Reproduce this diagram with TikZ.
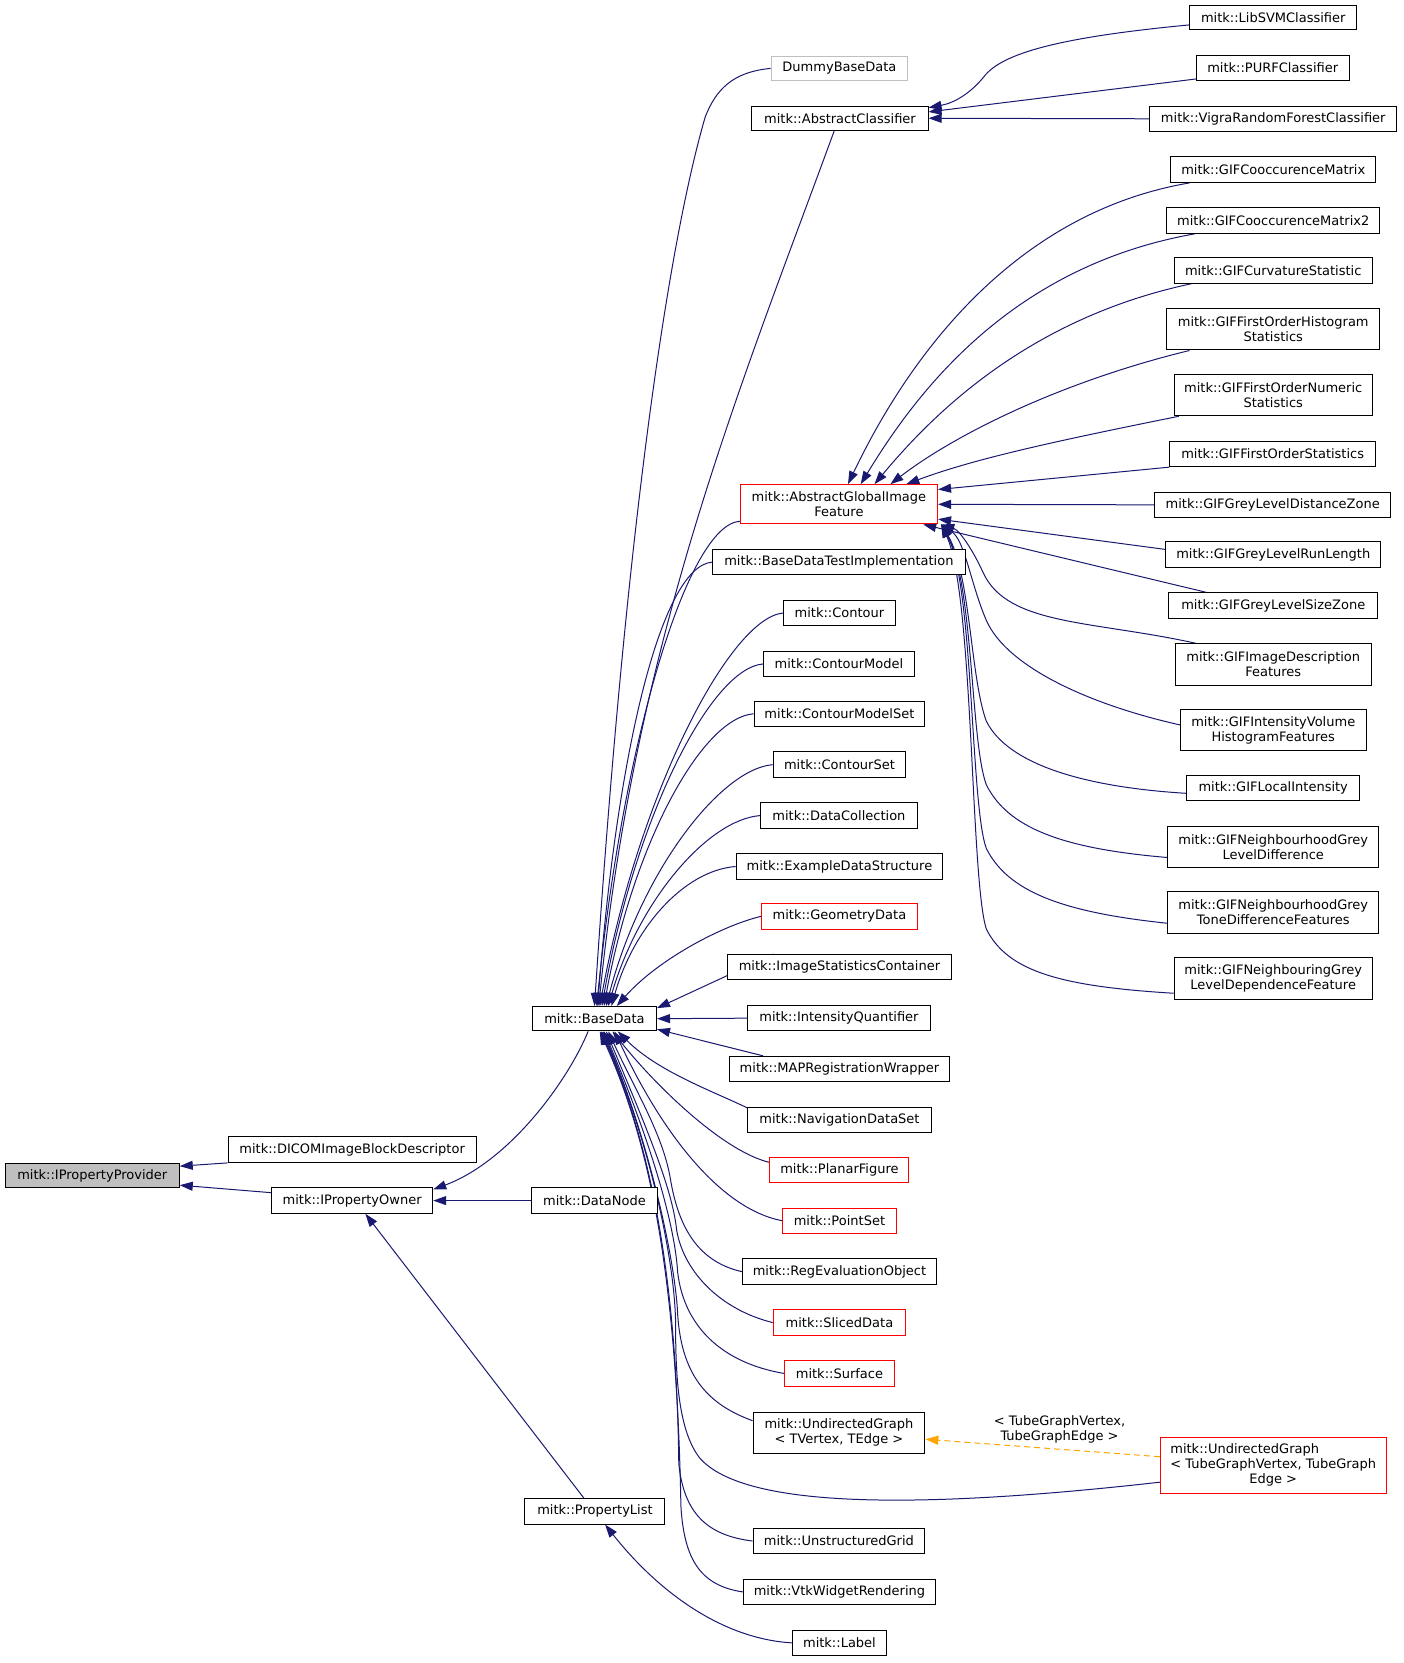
\documentclass[tikz,border=0pt]{standalone}
\usepackage{fontspec}
\setmainfont{DejaVu Sans}
\usetikzlibrary{arrows.meta,calc,backgrounds}
\definecolor{navy}{HTML}{191970}
\definecolor{lgray}{HTML}{BFBFBF}
\definecolor{orng}{HTML}{FFA500}
\newcommand\mkbox[7]{%
 \pgfmathsetmacro\mbx{(#3+#4)/2}%
 \pgfmathsetmacro\mby{(#5+#6)/2}%
 \pgfmathsetlengthmacro\mbw{(#4-#3)*1.0605pt}%
 \pgfmathsetlengthmacro\mbh{(#6-#5)*1.0605pt}%
 \node[#2,minimum width=\mbw,minimum height=\mbh] (#1) at (\mbx,\mby) {#7};}
\begin{document}
\begin{tikzpicture}[x=1.0605pt,y=-1.0605pt,
  box/.style={draw=black,fill=white,line width=1pt,inner sep=0pt,align=center,font=\fontsize{13}{15}\selectfont},
  redbox/.style={box,draw=red},
  graybox/.style={box,draw=lgray},
  rootbox/.style={box,fill=lgray},
  inh/.style={draw=navy,line width=1pt,-{Triangle[length=13pt,width=9pt]}},
  tmpl/.style={draw=orng,line width=1pt,dashed,dash pattern=on 6pt off 4pt,-{Triangle[length=13pt,width=9pt]}},
  lbl/.style={align=center,inner sep=0pt,font=\fontsize{13}{15}\selectfont}]
\path[use as bounding box] (0,0) rectangle (1323,1568);
% left part
\mkbox{ipp}{rootbox}{5}{169}{1097}{1120}{mitk::IPropertyProvider}
\mkbox{dicom}{box}{215}{449}{1072}{1096}{mitk::DICOMImageBlockDescriptor}
\mkbox{ipo}{box}{256}{408}{1120}{1144}{mitk::IPropertyOwner}
\mkbox{bd}{box}{502}{619}{949}{972}{mitk::BaseData}
\mkbox{dn}{box}{501}{620}{1120}{1144}{mitk::DataNode}
\mkbox{pl}{box}{495}{627}{1413}{1437}{mitk::PropertyList}
\mkbox{lab}{box}{747}{836}{1537}{1561}{mitk::Label}
% middle column
\mkbox{dummy}{graybox}{727}{856}{53}{76}{DummyBaseData}
\mkbox{ac}{box}{709}{875}{100}{123}{mitk::AbstractClassifier}
\mkbox{agif}{redbox}{698}{884}{457}{494}{mitk::AbstractGlobalImage\\Feature}
\mkbox{bdti}{box}{672}{910}{518}{542}{mitk::BaseDataTestImplementation}
\mkbox{cont}{box}{739}{844}{566}{590}{mitk::Contour}
\mkbox{cm}{box}{720}{862}{614}{638}{mitk::ContourModel}
\mkbox{cms}{box}{711}{872}{661}{685}{mitk::ContourModelSet}
\mkbox{cs}{box}{729}{854}{709}{733}{mitk::ContourSet}
\mkbox{dc}{box}{717}{865}{757}{781}{mitk::DataCollection}
\mkbox{eds}{box}{694}{889}{805}{829}{mitk::ExampleDataStructure}
\mkbox{gd}{redbox}{718}{865}{852}{876}{mitk::GeometryData}
\mkbox{isc}{box}{686}{897}{900}{924}{mitk::ImageStatisticsContainer}
\mkbox{iq}{box}{705}{877}{948}{972}{mitk::IntensityQuantifier}
\mkbox{map}{box}{688}{895}{996}{1020}{mitk::MAPRegistrationWrapper}
\mkbox{nds}{box}{705}{878}{1044}{1068}{mitk::NavigationDataSet}
\mkbox{pf}{redbox}{726}{857}{1091}{1115}{mitk::PlanarFigure}
\mkbox{ps}{redbox}{738}{845}{1139}{1163}{mitk::PointSet}
\mkbox{reo}{box}{700}{883}{1187}{1211}{mitk::RegEvaluationObject}
\mkbox{sd}{redbox}{729}{854}{1235}{1259}{mitk::SlicedData}
\mkbox{surf}{redbox}{740}{843}{1283}{1307}{mitk::Surface}
\mkbox{ug}{box}{710}{872}{1332}{1370}{mitk::UndirectedGraph\\< TVertex, TEdge >}
\mkbox{ugrid}{box}{710}{872}{1441}{1465}{mitk::UnstructuredGrid}
\mkbox{vtk}{box}{701}{882}{1489}{1513}{mitk::VtkWidgetRendering}
% right column
\mkbox{libsvm}{box}{1122}{1279}{5}{28}{mitk::LibSVMClassifier}
\mkbox{purf}{box}{1128}{1272}{52}{76}{mitk::PURFClassifier}
\mkbox{vigra}{box}{1084}{1317}{100}{124}{mitk::VigraRandomForestClassifier}
\mkbox{gcm}{box}{1104}{1297}{148}{172}{mitk::GIFCooccurenceMatrix}
\mkbox{gcm2}{box}{1100}{1301}{196}{220}{mitk::GIFCooccurenceMatrix2}
\mkbox{gcs}{box}{1107}{1294}{243}{267}{mitk::GIFCurvatureStatistic}
\mkbox{gfoh}{box}{1100}{1301}{291}{330}{mitk::GIFFirstOrderHistogram\\Statistics}
\mkbox{gfon}{box}{1107}{1294}{353}{392}{mitk::GIFFirstOrderNumeric\\Statistics}
\mkbox{gfos}{box}{1103}{1297}{416}{440}{mitk::GIFFirstOrderStatistics}
\mkbox{gldz}{box}{1089}{1311}{464}{488}{mitk::GIFGreyLevelDistanceZone}
\mkbox{glrl}{box}{1099}{1302}{511}{535}{mitk::GIFGreyLevelRunLength}
\mkbox{glsz}{box}{1102}{1299}{559}{583}{mitk::GIFGreyLevelSizeZone}
\mkbox{gid}{box}{1108}{1293}{607}{646}{mitk::GIFImageDescription\\Features}
\mkbox{givh}{box}{1113}{1288}{669}{708}{mitk::GIFIntensityVolume\\HistogramFeatures}
\mkbox{gli}{box}{1119}{1282}{731}{755}{mitk::GIFLocalIntensity}
\mkbox{gngl}{box}{1101}{1300}{779}{818}{mitk::GIFNeighbourhoodGrey\\LevelDifference}
\mkbox{ngtd}{box}{1101}{1300}{841}{880}{mitk::GIFNeighbourhoodGrey\\ToneDifferenceFeatures}
\mkbox{nbgl}{box}{1107}{1294}{903}{942}{mitk::GIFNeighbouringGrey\\LevelDependenceFeature}
\mkbox{ugt}{redbox}{1094}{1307}{1355}{1408}{\begin{tabular}{@{}l@{}}mitk::UndirectedGraph\\< TubeGraphVertex, TubeGraph\\\multicolumn{1}{@{}c@{}}{Edge >}\end{tabular}}
\node[lbl] (tlabel) at (999,1348) {< TubeGraphVertex,\\TubeGraphEdge >};
\begin{pgfonlayer}{background}
% to IPropertyProvider
\draw[inh] (dicom.south west) -- ($(ipp.north east)+(0,3)$);
\draw[inh] ($(ipo.north west)+(0,5)$) -- ($(ipp.south east)+(0,-3)$);
% to IPropertyOwner
\draw[inh] ($(bd.south west)+(53,0)$) .. controls (535,1020) and (480,1095) .. ($(ipo.north east)+(0,2)$);
\draw[inh] (dn.west) -- (ipo.east);
\draw[inh] ($(pl.north west)+(56,0)$) -- ($(ipo.south west)+(89,0)$);
% to PropertyList
\draw[inh] (lab.west) .. controls (680,1545) and (620,1500) .. ($(pl.south west)+(76,0)$);
% to AbstractClassifier
\draw[inh] ($(libsvm.south west)+(0,-5)$) .. controls (1000,35) and (945,50) .. (928,72) .. controls (915,88) and (900,97) .. ($(ac.north east)+(0,2)$);
\draw[inh] ($(purf.south west)+(0,-2)$) -- ($(ac.north east)+(0,6)$);
\draw[inh] (vigra.west) -- (ac.east);
% to BaseData (above)
\draw[inh] (dummy.west) .. controls (690,68) and (675,85) .. (665,110) .. controls (630,230) and (590,500) .. ($(bd.north west)+(59,0)$);
\draw[inh] ($(ac.south west)+(78,0)$) .. controls (700,360) and (600,600) .. ($(bd.north west)+(63,0)$);
\draw[inh] ($(agif.south west)+(0,-3)$) .. controls (648,495) and (588,697) .. ($(bd.north west)+(61,0)$);
\draw[inh] (bdti.west) .. controls (622,534) and (581,718) .. ($(bd.north west)+(62,0)$);
\draw[inh] (cont.west) .. controls (689,582) and (603,745) .. ($(bd.north west)+(64,0)$);
\draw[inh] (cm.west) .. controls (670,630) and (599,771) .. ($(bd.north west)+(66,0)$);
\draw[inh] (cms.west) .. controls (661,677) and (597,797) .. ($(bd.north west)+(68,0)$);
\draw[inh] (cs.west) .. controls (679,725) and (604,823) .. ($(bd.north west)+(70,0)$);
\draw[inh] (dc.west) .. controls (667,773) and (602,850) .. ($(bd.north west)+(72,0)$);
\draw[inh] (eds.west) .. controls (644,821) and (597,876) .. ($(bd.north west)+(75,0)$);
\draw[inh] (gd.west) .. controls (680,873) and (620,905) .. ($(bd.north west)+(80,0)$);
\draw[inh] ($(isc.north west)+(44,0)$) -- ($(bd.north east)+(0,2)$);
\draw[inh] (iq.west) -- (bd.east);
\draw[inh] ($(map.north west)+(32,0)$) -- ($(bd.south east)+(0,-2)$);
% to BaseData (below)
\draw[inh] ($(nds.north west)+(0,1)$) .. controls (670,1028) and (620,1010) .. ($(bd.south west)+(81,0)$);
\draw[inh] ($(pf.west)+(0,-7)$) .. controls (680,1085) and (615,1020) .. ($(bd.south west)+(76,0)$);
\draw[inh] (ps.west) .. controls (680,1140) and (625,1070) .. ($(bd.south west)+(78,0)$);
\draw[inh] (reo.west) .. controls (660,1190) and (640,1160) .. (632,1111) .. controls (625,1070) and (600,1030) .. ($(bd.south west)+(72,0)$);
\draw[inh] (sd.west) .. controls (680,1235) and (645,1200) .. (638,1160) .. controls (634,1120) and (608,1060) .. ($(bd.south west)+(70,0)$);
\draw[inh] (surf.west) .. controls (680,1285) and (645,1250) .. (639,1200) .. controls (636,1150) and (610,1068) .. ($(bd.south west)+(68,0)$);
\draw[inh] ($(ug.north west)+(0,8)$) .. controls (670,1325) and (643,1300) .. (639,1240) .. controls (637,1190) and (612,1075) .. ($(bd.south west)+(67,0)$);
\draw[inh] ($(ugt.west)+(0,16)$) .. controls (850,1425) and (700,1420) .. (660,1375) .. controls (640,1350) and (637,1300) .. (637,1250) .. controls (637,1190) and (612,1075) .. ($(bd.south west)+(66,0)$);
\draw[inh] (ugrid.west) .. controls (670,1448) and (645,1430) .. (640,1380) .. controls (638,1200) and (612,1075) .. ($(bd.south west)+(65,0)$);
\draw[inh] (vtk.west) .. controls (660,1495) and (645,1470) .. (642,1420) .. controls (638,1200) and (612,1075) .. ($(bd.south west)+(64,0)$);
% to AbstractGlobalImageFeature
\draw[inh] ($(gcm.south west)+(18,0)$) .. controls (960,200) and (860,330) .. ($(agif.north west)+(102,0)$);
\draw[inh] ($(gcm2.south west)+(27,0)$) .. controls (960,250) and (870,360) .. ($(agif.north west)+(114,0)$);
\draw[inh] ($(gcs.south west)+(17,0)$) .. controls (970,300) and (880,390) .. ($(agif.north west)+(127,0)$);
\draw[inh] ($(gfoh.south west)+(22,0)$) .. controls (1000,360) and (900,410) .. ($(agif.north west)+(142,0)$);
\draw[inh] ($(gfon.south west)+(5,0)$) .. controls (1000,415) and (920,432) .. ($(agif.north west)+(157,0)$);
\draw[inh] (gfos.south west) -- ($(agif.north east)+(0,5)$);
\draw[inh] (gldz.west) -- (agif.east);
\draw[inh] ($(glrl.west)+(0,-5)$) -- ($(agif.south east)+(0,-5)$);
\draw[inh] ($(glsz.north west)+(36,0)$) -- ($(agif.south east)+(-14,0)$);
\draw[inh] ($(gid.north west)+(20,0)$) .. controls (1030,585) and (950,590) .. (927,540) .. controls (918,520) and (905,500) .. ($(agif.south east)+(3,0)$);
\draw[inh] ($(givh.west)+(0,-5)$) .. controls (1030,665) and (950,630) .. (930,585) .. controls (915,550) and (910,510) .. ($(agif.south east)+(3,0)$);
\draw[inh] ($(gli.west)+(0,5)$) .. controls (1020,742) and (950,720) .. (930,680) .. controls (915,640) and (915,540) .. ($(agif.south east)+(3,0)$);
\draw[inh] ($(gngl.west)+(0,10)$) .. controls (1000,800) and (950,780) .. (930,740) .. controls (915,700) and (918,550) .. ($(agif.south east)+(3,0)$);
\draw[inh] ($(ngtd.west)+(0,10)$) .. controls (1000,860) and (950,840) .. (930,800) .. controls (915,760) and (918,550) .. ($(agif.south east)+(3,0)$);
\draw[inh] ($(nbgl.west)+(0,14)$) .. controls (1000,930) and (950,916) .. (930,876) .. controls (915,830) and (918,560) .. ($(agif.south east)+(3,0)$);
% template instantiation
\draw[tmpl] ($(ugt.west)+(0,-8)$) -- ($(ug.east)+(0,6)$);
\end{pgfonlayer}
\end{tikzpicture}
\end{document}
